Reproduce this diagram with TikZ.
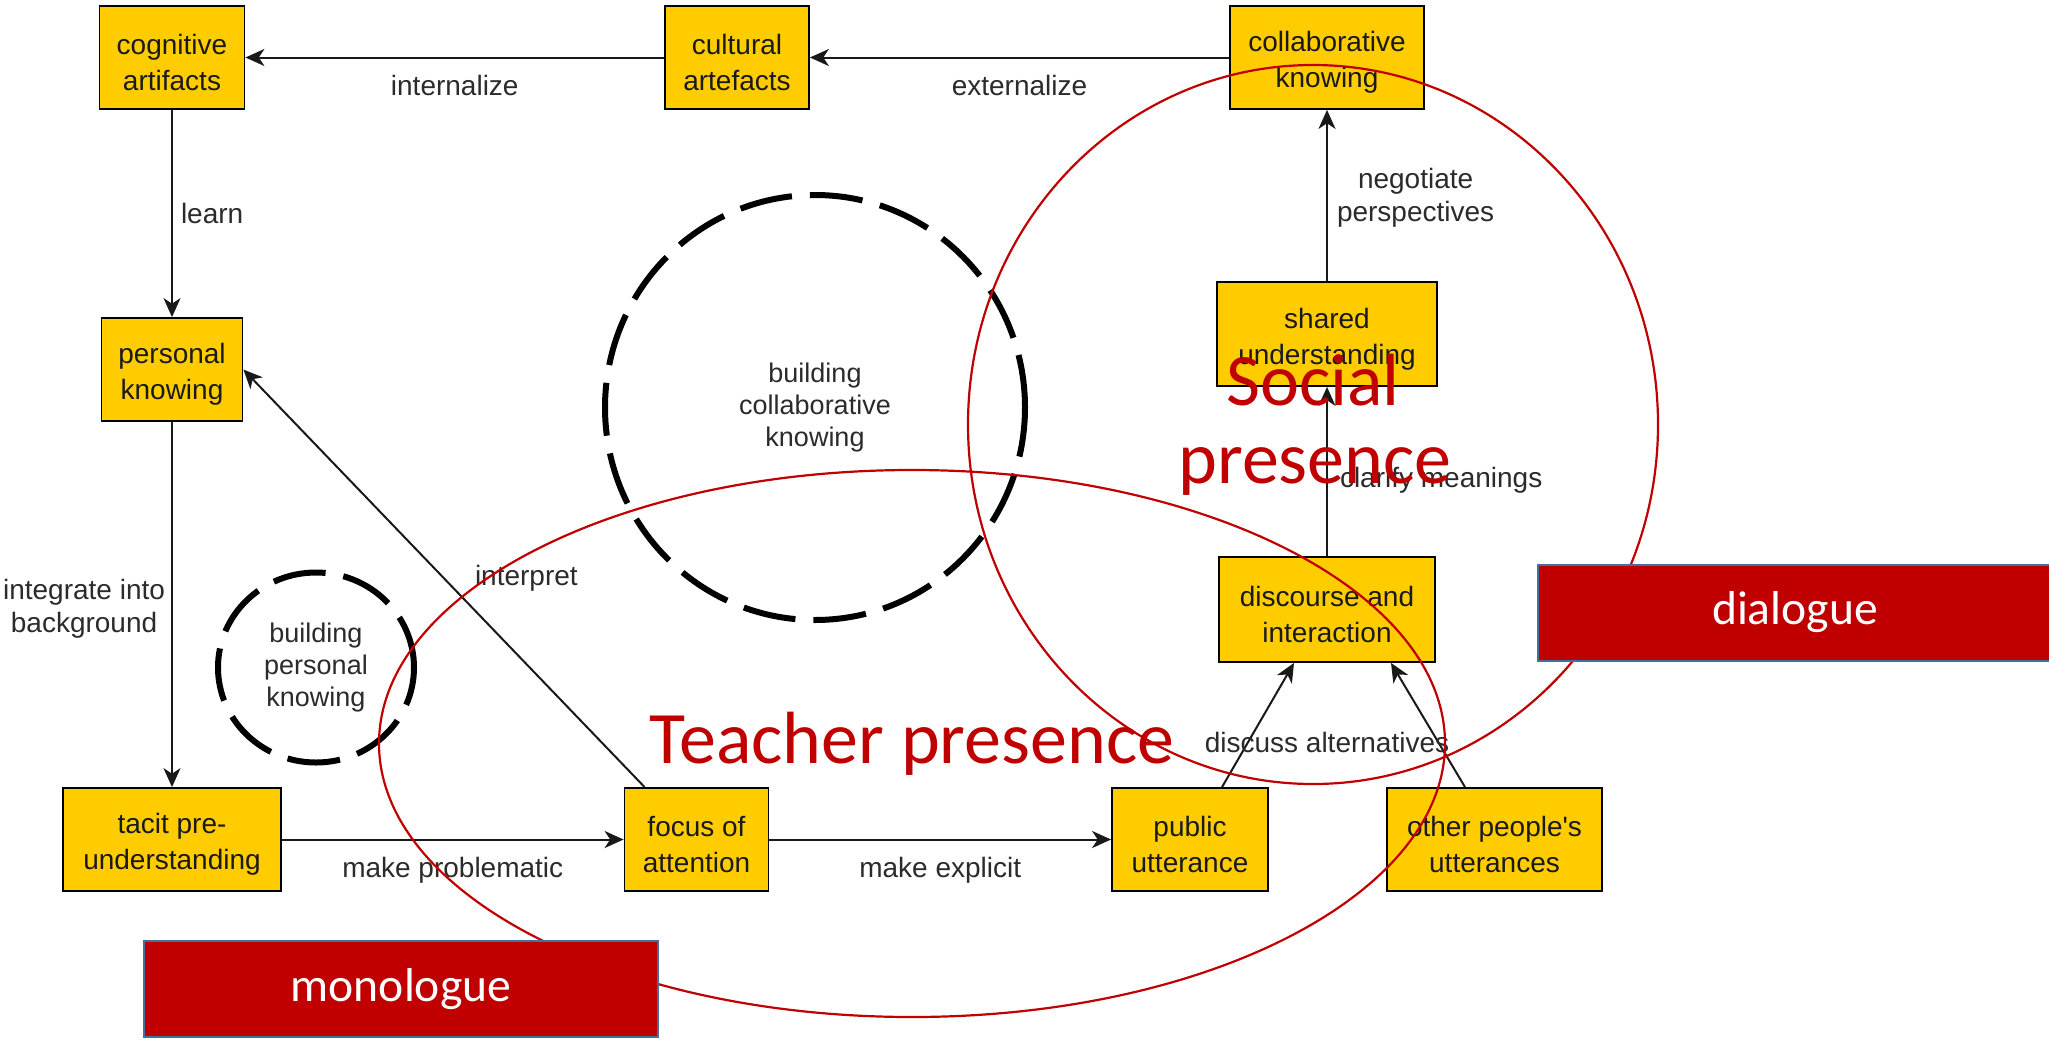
\documentclass[tikz,border=0pt]{standalone}
\usepackage{fontspec}
\setmainfont{Liberation Sans}
\newfontfamily\calib{Carlito}
\usetikzlibrary{arrows.meta,shapes.geometric}
\definecolor{boxyellow}{HTML}{FFCC00}
\definecolor{pptred}{HTML}{C00000}
\definecolor{pptblue}{HTML}{41719C}
\definecolor{inktext}{HTML}{1A1A1A}
\definecolor{edgetext}{HTML}{2B2B2B}

\begin{document}
\begin{tikzpicture}[x=0.5pt,y=-0.5pt,
  concept/.style={draw=black, line width=0.9pt, fill=boxyellow, minimum height=51.5pt, inner sep=0pt},
  concepttext/.style={align=center, inner sep=0pt, font=\fontsize{14}{18}\selectfont, text=inktext, yshift=-2.5pt},
  link/.style={draw=black!90, line width=1pt, -{Stealth[length=9.5pt,width=8.5pt,inset=2.8pt]}},
  lbl/.style={font=\fontsize{14}{16.5}\selectfont, text=edgetext, inner sep=0pt, align=center},
  zone/.style={draw=black, line width=3pt, dash pattern=on 26.5pt off 9pt, shape=ellipse,
    align=center, inner sep=0pt, font=\fontsize{13.5}{16}\selectfont, text=edgetext},
  presenceline/.style={draw=pptred, line width=1.1pt},
  bigword/.style={text=pptred, font=\calib\fontsize{37}{40}\selectfont, inner sep=0pt, anchor=base},
  talkbox/.style={draw=pptblue, line width=1pt, fill=pptred, text=white,
    minimum width=257pt, minimum height=48pt, font=\calib\fontsize{23.8}{28}\selectfont}
]

\useasboundingbox (0,0) rectangle (2049,1039);
\fill[white] (0,0) rectangle (2049,1039);

% concept boxes
\node[concept, minimum width=72.5pt] (cog) at (172,57.5) {};
\node[concepttext] (cog-text) at (cog.center) {cognitive\\artifacts};
\node[concept, minimum width=72pt] (cult) at (737,57.5) {};
\node[concepttext] (cult-text) at (cult.center) {cultural\\artefacts};
\node[concept, minimum width=97pt] (collab) at (1327,57.5) {};
\node[concepttext] (collab-text) at (collab.center) {collaborative\\knowing};
\node[concept, minimum width=70.5pt] (pers) at (172,369.5) {};
\node[concepttext] (pers-text) at (pers.center) {personal\\knowing};
\node[concept, minimum width=110pt, minimum height=52pt] (shared) at (1327,334) {};
\node[concepttext] (shared-text) at (shared.center) {shared\\understanding};
\node[concept, minimum width=108pt, minimum height=52.5pt] (disc) at (1327,609.5) {};
\node[concepttext] (disc-text) at (disc.center) {discourse and\\interaction};
\node[concept, minimum width=109pt] (tacit) at (172,839.5) {};
\node[concepttext] (tacit-text) at (tacit.center) {tacit pre-\\understanding};
\node[concept, minimum width=72pt] (focus) at (696.5,839.5) {};
\node[concepttext] (focus-text) at (focus.center) {focus of\\attention};
\node[concept, minimum width=78pt] (public) at (1190,839.5) {};
\node[concepttext] (public-text) at (public.center) {public\\utterance};
\node[concept, minimum width=107.5pt] (others) at (1494.5,839.5) {};
\node[concepttext] (others-text) at (others.center) {other people\textquotesingle s\\utterances};

% connectors
\draw[link] (collab) -- node[lbl, below=8.5pt] {externalize} (cult);
\draw[link] (cult) -- node[lbl, below=8.5pt] {internalize} (cog);
\draw[link] (cog) -- node[lbl, right=4pt] {learn} (pers);
\draw[link] (pers) -- node[lbl, left=3pt, yshift=-2pt] {integrate into\\background} (tacit);
\draw[link] (tacit) -- node[lbl, below=8.5pt] {make problematic} (focus);
\draw[link] (focus) -- node[lbl, below=8.5pt] {make explicit} (public);
\draw[link] ([xshift=10.5pt]focus.north west) -- node[lbl, midway, anchor=west, xshift=15pt] {interpret} (pers.east);
\draw[link] (shared) -- node[lbl, right=4.5pt, yshift=-1pt] {negotiate\\perspectives} (collab);
\draw[link] (disc) -- node[lbl, pos=0.45, right=6pt] {clarify meanings} (shared);
\draw[link] ([xshift=16pt]public.north) -- ([xshift=-16.5pt]disc.south);
\draw[link] ([xshift=-14.75pt]others.north) -- ([xshift=32pt]disc.south);
\node[lbl] (discuss) at (1327,742) {discuss alternatives};

% dashed knowledge-building zones
\node[zone, minimum width=210pt, minimum height=212.5pt] (collabzone) at (815,407.5) {building\\collaborative\\knowing};
\node[zone, minimum width=98pt, minimum height=95pt] (perszone) at (316,667.5) {building\\personal\\knowing};

% presence regions
\draw[presenceline] (1313,424.5) ellipse [x radius=172.5pt, y radius=179.75pt];
\draw[presenceline] (912,743.5) ellipse [x radius=266.5pt, y radius=136.75pt];

\node[bigword] (social) at (1313,405) {Social};
\node[bigword] (presenceword) at (1315,483) {presence};
\node[bigword] (teacher) at (912,763) {Teacher presence};

% talk modes
\node[talkbox] (dialogue) at (1795,612.5) {dialogue};
\node[talkbox] (monologue) at (401,989) {monologue};

\end{tikzpicture}
\end{document}
